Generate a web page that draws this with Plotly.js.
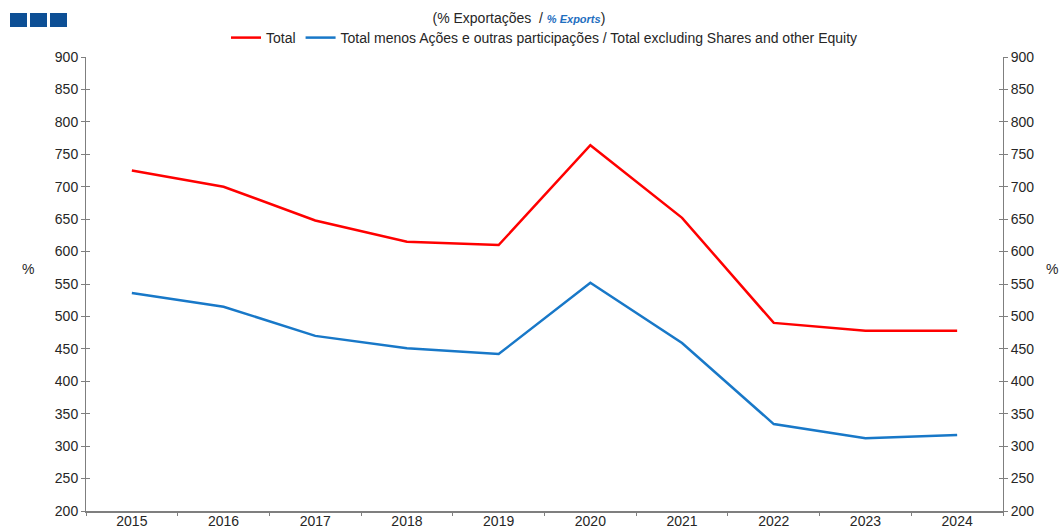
<!DOCTYPE html>
<html>
<head>
<meta charset="utf-8">
<script src="https://cdn.plot.ly/plotly-3.0.1.min.js"></script>
<style>html,body{margin:0;padding:0;background:#fff;}#chart{width:1059px;height:528px;}</style>
</head>
<body>
<div id="chart"></div>
<script>
const years = ["2015","2016","2017","2018","2019","2020","2021","2022","2023","2024"];
const total = [725, 700, 648, 615, 610, 764, 652, 490, 478, 478];
const totalExclEquity = [536, 515, 470, 451, 442, 552, 459, 334, 312, 317];
const seriesNames = ["Total", "Total menos Ações e outras participações / Total excluding Shares and other Equity"];
const yTicks = [200,250,300,350,400,450,500,550,600,650,700,750,800,850,900];

const W = 1059, H = 528;
const M = {l: 86, r: 56, t: 57, b: 17};
const pw = W - M.l - M.r, ph = H - M.t - M.b;
function px(x){ return (x - M.l) / pw; }
function py(y){ return (H - M.b - y) / ph; }

const font = "Liberation Sans, Arial, sans-serif";
const axisCol = "#7f7f7f";
const txtCol = "#262626";

const traces = [
  {x: years, y: total, name: seriesNames[0], type: "scatter", mode: "lines",
   line: {color: "#ff0000", width: 2.5}},
  {x: years, y: totalExclEquity, name: seriesNames[1], type: "scatter", mode: "lines",
   line: {color: "#1878c8", width: 2.5}}
];
["y2","y3","y4"].forEach(ax => traces.push({x: years, y: total, yaxis: ax, showlegend: false,
  hoverinfo: "skip", mode: "lines", line: {width: 0, color: "rgba(0,0,0,0)"}}));

const yCommon = {
  range: [200, 900], tickvals: yTicks, ticktext: yTicks.map(String),
  showgrid: false, zeroline: false, showline: true, linecolor: axisCol, linewidth: 1,
  ticks: "outside", ticklen: 4, tickcolor: axisCol, tickwidth: 1,
  tickfont: {family: font, size: 14, color: txtCol}, fixedrange: true
};
const yInner = {
  range: [200, 900], tickvals: yTicks, showticklabels: false,
  showgrid: false, zeroline: false, showline: false,
  ticks: "inside", ticklen: 4, tickcolor: axisCol, tickwidth: 1, overlaying: "y"
};

const logoShapes = [10, 30, 50].map(x0 => ({
  type: "rect", xref: "paper", yref: "paper",
  x0: px(x0), x1: px(x0 + 17), y0: py(27), y1: py(13),
  fillcolor: "#0d4f95", line: {width: 0}
}));

const layout = {
  width: W, height: H,
  margin: M,
  paper_bgcolor: "#fff", plot_bgcolor: "#fff",
  font: {family: font, color: txtCol},
  title: {
    text: '(% Exportações  / <span style="color:#1f6fbf;font-size:11px"><b><i>% Exports</i></b></span>)',
    font: {family: font, size: 14, color: txtCol},
    x: 0.49, xanchor: "center", y: 1 - 18/H, yanchor: "middle", yref: "container"
  },
  showlegend: true,
  legend: {
    orientation: "h", x: 0.5, xanchor: "center", y: 1 + 19/ph, yanchor: "middle",
    font: {family: font, size: 14, color: txtCol}, itemwidth: 30, tracegroupgap: 0,
    bgcolor: "rgba(0,0,0,0)"
  },
  xaxis: {
    type: "category", range: [-0.5, 9.5], tickson: "boundaries",
    ticks: "outside", ticklen: 3, tickcolor: axisCol,
    showgrid: false, zeroline: false, showline: true, linecolor: axisCol, linewidth: 1.5,
    tickfont: {family: font, size: 14, color: txtCol}, fixedrange: true,
    ticklabelstandoff: -3
  },
  yaxis: Object.assign({}, yCommon, {side: "left"}),
  yaxis2: Object.assign({}, yCommon, {side: "right", overlaying: "y"}),
  yaxis3: Object.assign({}, yInner, {side: "left"}),
  yaxis4: Object.assign({}, yInner, {side: "right"}),
  shapes: logoShapes,
  annotations: [
    {text: "%", xref: "paper", yref: "paper", x: px(28), y: py(269), showarrow: false,
     font: {family: font, size: 14, color: txtCol}, xanchor: "center", yanchor: "middle"},
    {text: "%", xref: "paper", yref: "paper", x: px(1052), y: py(269), showarrow: false,
     font: {family: font, size: 14, color: txtCol}, xanchor: "center", yanchor: "middle"}
  ]
};

Plotly.newPlot("chart", traces, layout, {displayModeBar: false, staticPlot: true});
</script>
</body>
</html>
